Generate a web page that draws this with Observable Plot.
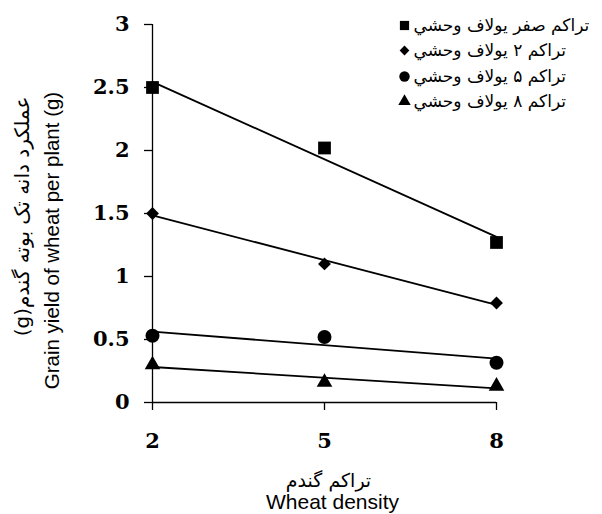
<!DOCTYPE html>
<html><head><meta charset="utf-8">
<script src="https://cdn.jsdelivr.net/npm/d3@7"></script>
<script src="https://cdn.jsdelivr.net/npm/@observablehq/plot@0.6"></script>
<style>body{margin:0;background:#fff}</style>
</head><body><div id="chart"></div>
<script>
// ---- data ----
const densities = [2, 5, 8];
const seriesNames = ["تراکم صفر یولاف وحشي", "تراکم ۲ یولاف وحشي", "تراکم ۵ یولاف وحشي", "تراکم ۸ یولاف وحشي"];
const yieldZero  = [2.5, 2.02, 1.27];
const yieldTwo   = [1.5, 1.1, 0.79];
const yieldFive  = [0.53, 0.52, 0.315];
const yieldEight = [0.3, 0.16, 0.13];
const yTicks = [0, 0.5, 1, 1.5, 2, 2.5, 3];
const xTicks = [2, 5, 8];
const xLabelFa = "تراکم گندم";
const xLabelEn = "Wheat density";
const yLabelFa = "(g)عملکرد دانه تک بوته گندم";
const yLabelEn = "Grain yield of wheat per plant (g)";

// ---- build ----
const seriesValues = [yieldZero, yieldTwo, yieldFive, yieldEight];
const rows = seriesValues.flatMap((vals, i) => densities.map((x, j) => ({series: seriesNames[i], x, y: vals[j]})));
const symbols = ["square", "diamond2", "circle", "triangle"];
const radii = [7.2, 5.8, 7, 5.8];
const legendRadii = [5.2, 4.4, 5.2, 4.6];
const legendRowDy = [1, 26, 52, 77];
const tickFont = {fontFamily: "DejaVu Serif", fontWeight: "bold", fontSize: 21};

const marks = [
  Plot.ruleX([densities[0]], {stroke: "black", strokeWidth: 1.3}),
  Plot.ruleY([0], {stroke: "black", strokeWidth: 1.3}),
  Plot.axisY(yTicks, {label: null, tickSize: 8, tickPadding: 15, tickFormat: d => String(d), ...tickFont, strokeWidth: 1.3}),
  Plot.axisX(xTicks, {label: null, tickSize: 8, tickPadding: 23, tickFormat: d => String(d), ...tickFont, strokeWidth: 1.3}),
  Plot.linearRegressionY(rows, {x: "x", y: "y", z: "series", stroke: "black", strokeWidth: 1.8, ci: 0})
];
seriesNames.forEach((name, i) => {
  marks.push(Plot.dot(rows.filter(d => d.series === name), {x: "x", y: "y", symbol: () => symbols[i], r: radii[i], fill: "black", stroke: "none"}));
  marks.push(Plot.dot([name], {frameAnchor: "top-left", dx: 252, dy: legendRowDy[i], symbol: () => symbols[i], r: legendRadii[i], fill: "black", stroke: "none"}));
  marks.push(Plot.text([name], {text: d => d, frameAnchor: "top-left", lineAnchor: "middle", textAnchor: "start", dx: 261, dy: legendRowDy[i], fontSize: 17, fontFamily: "DejaVu Sans", fill: "black"}));
});
marks.push(Plot.text([xLabelFa], {text: d => d, frameAnchor: "bottom", lineAnchor: "middle", textAnchor: "middle", dx: 4, dy: 78, fontSize: 19, fontFamily: "DejaVu Sans", fill: "black"}));
marks.push(Plot.text([xLabelEn], {text: d => d, frameAnchor: "bottom", lineAnchor: "middle", textAnchor: "middle", dx: 8, dy: 100, fontSize: 21, fontFamily: "Liberation Sans", fill: "black"}));
marks.push(Plot.text([yLabelEn], {text: d => d, frameAnchor: "left", lineAnchor: "middle", textAnchor: "middle", rotate: -90, dx: -100, dy: 27, fontSize: 20.5, fontFamily: "Liberation Sans", fill: "black"}));
marks.push(Plot.text([yLabelFa], {text: d => d, frameAnchor: "left", lineAnchor: "middle", textAnchor: "middle", rotate: -90, dx: -130, dy: 3, fontSize: 20, fontFamily: "DejaVu Sans", fill: "black"}));

const chart = Plot.plot({
  width: 602, height: 514,
  marginLeft: 152, marginRight: 106, marginTop: 24, marginBottom: 112,
  x: {domain: [2, 8], axis: null},
  y: {domain: [0, 3], axis: null},
  style: {background: "white", color: "black", overflow: "visible"},
  marks
});
document.getElementById("chart").appendChild(chart);
</script>
</body></html>
